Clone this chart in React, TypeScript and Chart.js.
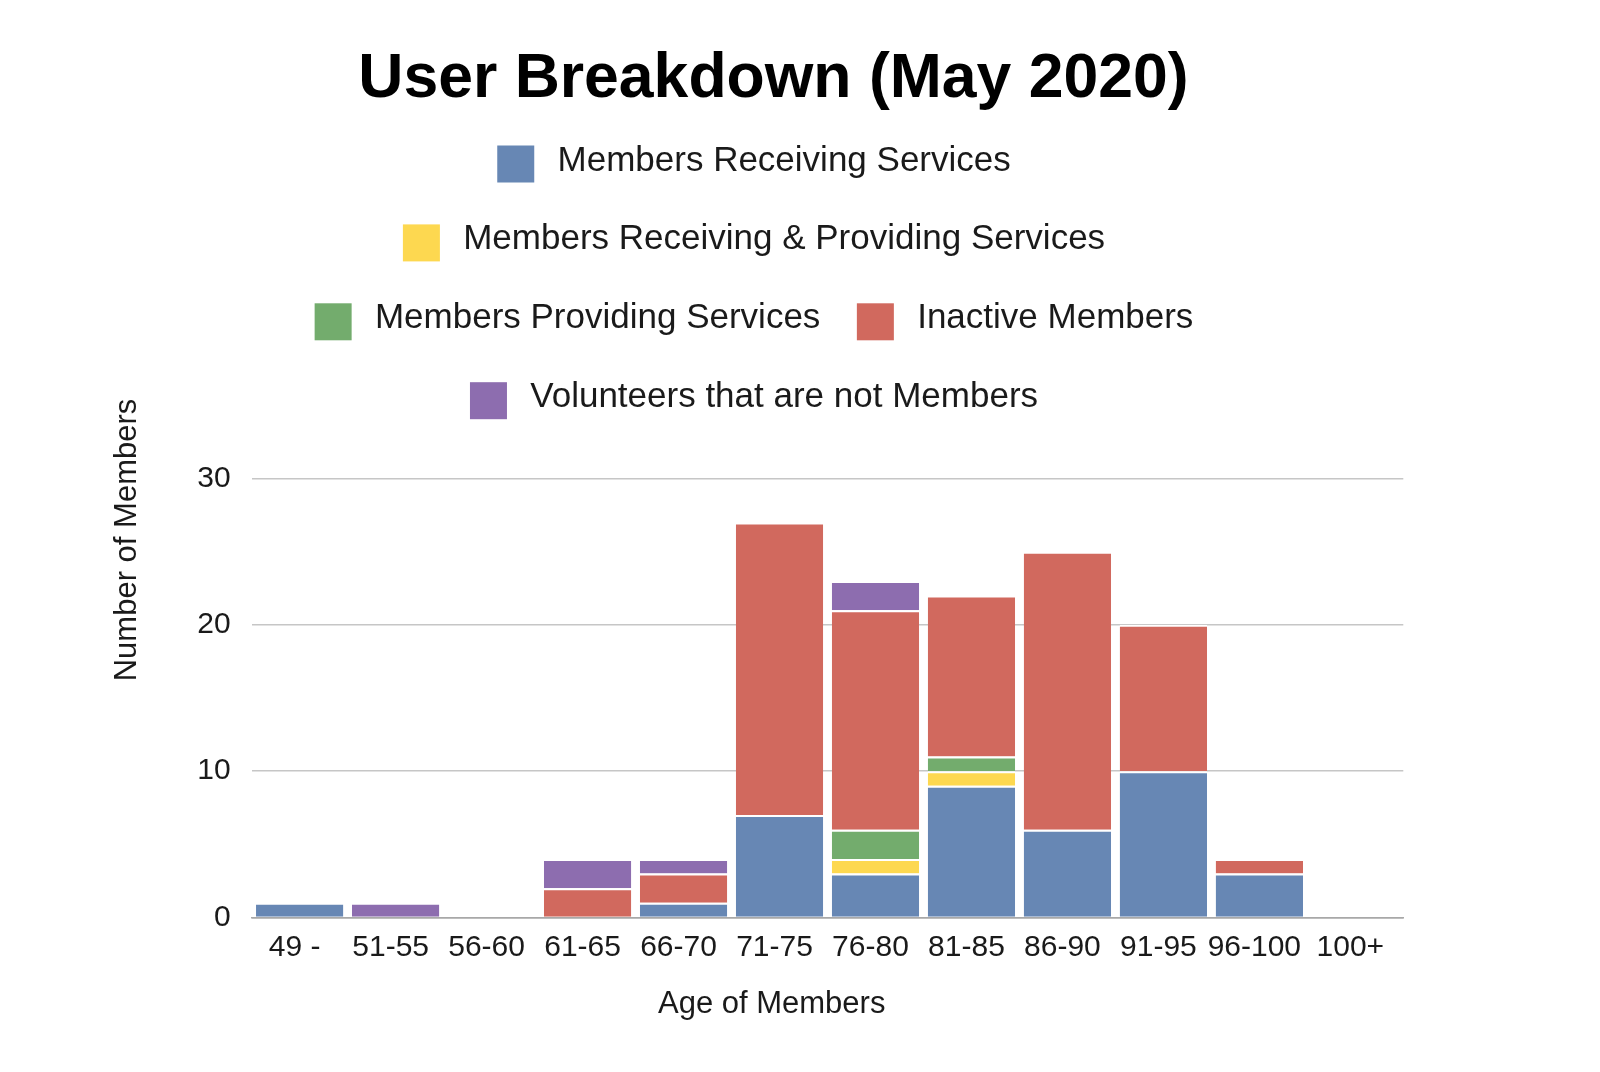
import React, { useEffect, useRef } from "react";
import { Chart, registerables } from "chart.js";

Chart.register(...registerables);

const FONT = '"Liberation Sans", Arial, sans-serif';

const TITLE = "User Breakdown (May 2020)";
const X_TITLE = "Age of Members";
const Y_TITLE = "Number of Members";

const categories = ["49 -", "51-55", "56-60", "61-65", "66-70", "71-75", "76-80", "81-85", "86-90", "91-95", "96-100", "100+"];

const seriesLabels = [
  "Members Receiving Services",
  "Members Receiving & Providing Services",
  "Members Providing Services",
  "Inactive Members",
  "Volunteers that are not Members",
];
const seriesColors = ["#6787B4", "#FDD850", "#73AC6D", "#D1695E", "#8D6DAF"];

const receiving = [1, 0, 0, 0, 1, 7, 3, 9, 6, 10, 3, 0];
const receivingProviding = [0, 0, 0, 0, 0, 0, 1, 1, 0, 0, 0, 0];
const providing = [0, 0, 0, 0, 0, 0, 2, 1, 0, 0, 0, 0];
const inactive = [0, 0, 0, 2, 2, 20, 15, 11, 19, 10, 1, 0];
const volunteers = [0, 1, 0, 2, 1, 0, 2, 0, 0, 0, 0, 0];

const yTicks = [0, 10, 20, 30];

const seriesValues = [receiving, receivingProviding, providing, inactive, volunteers];

const decorPlugin = {
  id: "decor",
  afterDraw(chart: any) {
    const ctx = chart.ctx as CanvasRenderingContext2D;
    ctx.save();
    // Title
    ctx.fillStyle = "#000000";
    ctx.font = `bold 62.5px ${FONT}`;
    ctx.textAlign = "center";
    ctx.textBaseline = "alphabetic";
    ctx.fillText(TITLE, 765.4, 88.6);

    // Legend
    const fontSize = 35;
    ctx.font = `${fontSize}px ${FONT}`;
    const box = 37;
    const boxGap = 23.3;
    const itemGap = 36.5;
    const maxRow = 1000;
    const centerX = 746;
    const firstBaseline = 162.5;
    const rowStep = 78.9;
    const items = chart.data.datasets.map((ds: any) => ({
      label: ds.label as string,
      color: ds.backgroundColor as string,
      w: box + boxGap + ctx.measureText(ds.label).width,
    }));
    const rows: any[][] = [];
    let cur: any[] = [];
    let curW = 0;
    for (const it of items) {
      const add = cur.length === 0 ? it.w : curW + itemGap + it.w;
      if (cur.length > 0 && add > maxRow) {
        rows.push(cur);
        cur = [it];
        curW = it.w;
      } else {
        cur.push(it);
        curW = add;
      }
    }
    if (cur.length) rows.push(cur);
    rows.forEach((row, r) => {
      const rowW = row.reduce((s, it, i) => s + it.w + (i > 0 ? itemGap : 0), 0);
      let x = centerX - rowW / 2;
      const baseline = firstBaseline + r * rowStep;
      for (const it of row) {
        ctx.fillStyle = it.color;
        ctx.fillRect(x, baseline - 25, box, box);
        ctx.fillStyle = "#1a1a1a";
        ctx.textAlign = "left";
        ctx.fillText(it.label, x + box + boxGap, baseline);
        x += it.w + itemGap;
      }
    });

    // Axis titles
    ctx.fillStyle = "#1a1a1a";
    ctx.font = `31px ${FONT}`;
    ctx.textAlign = "center";
    ctx.fillText(X_TITLE, 763.7, 1005.3);
    ctx.translate(128, 532);
    ctx.rotate(-Math.PI / 2);
    ctx.fillText(Y_TITLE, 0, 0);
    ctx.restore();
  },
};

export default function App() {
  const ref = useRef<HTMLCanvasElement | null>(null);
  useEffect(() => {
    if (!ref.current) return;
    const chart = new Chart(ref.current, {
      type: "bar",
      data: {
        labels: categories,
        datasets: seriesLabels.map((label, i) => ({
          label,
          data: seriesValues[i],
          backgroundColor: seriesColors[i],
          borderColor: "#ffffff",
          borderWidth: { top: 2, left: 0, right: 0, bottom: 0 },
          barPercentage: 0.91,
          categoryPercentage: 1,
        })),
      },
      options: {
        responsive: false,
        animation: false,
        layout: { padding: { left: 40, right: 188.7, top: 470.5, bottom: 0 } },
        plugins: {
          legend: { display: false },
          title: { display: false },
          tooltip: { enabled: false },
        },
        scales: {
          x: {
            stacked: true,
            grid: { display: false, drawTicks: false },
            border: { display: true, color: "#a8a8a8", width: 1.5 },
            ticks: {
              color: "#1a1a1a",
              font: { family: FONT, size: 30 },
              padding: 12,
              labelOffset: -5,
              autoSkip: false,
              maxRotation: 0,
              minRotation: 0,
            },
            afterFit: (s: any) => {
              s.height = 146.5;
            },
          },
          y: {
            stacked: true,
            min: 0,
            max: 30,
            afterBuildTicks: (s: any) => {
              s.ticks = yTicks.map((v) => ({ value: v }));
            },
            grid: {
              drawTicks: false,
              color: (c: any) => (c.tick && c.tick.value === 0 ? "#a8a8a8" : "#c6c6c6"),
              lineWidth: 1.5,
            },
            border: { display: false },
            ticks: {
              color: "#1a1a1a",
              font: { family: FONT, size: 30 },
              padding: 21,
            },
            afterFit: (s: any) => {
              s.width = 203.7;
            },
          },
        },
      },
      plugins: [decorPlugin],
    });
    return () => chart.destroy();
  }, []);
  return (
    <div style={{ width: 1584, height: 1056 }}>
      <canvas ref={ref} width={1584} height={1056} style={{ display: "block" }} />
    </div>
  );
}
